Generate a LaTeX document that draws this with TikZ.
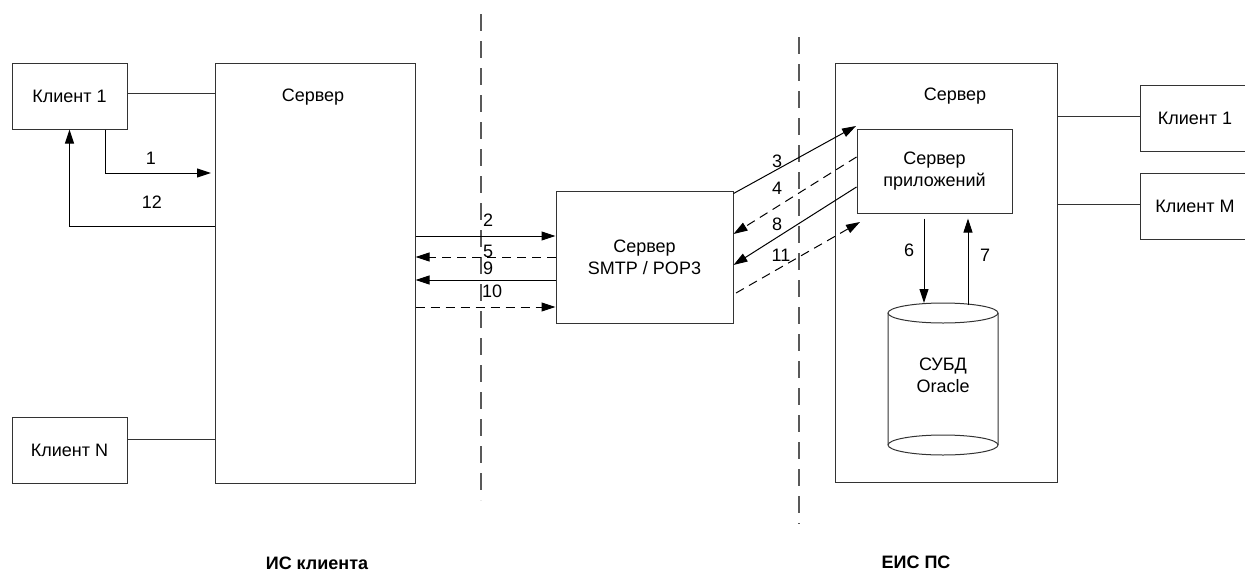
\documentclass[tikz,border=0pt]{standalone}
\usepackage{fontspec}
\setmainfont{Liberation Sans}
\usetikzlibrary{arrows.meta}
\begin{document}
\begin{tikzpicture}[x=1pt, y=-1pt,
  box/.style={rectangle, draw=black!80, line width=1pt, inner sep=0pt,
    align=center, font=\fontsize{18}{22}\selectfont},
  txt/.style={font=\fontsize{18}{22}\selectfont, inner sep=0pt, align=center},
  ttl/.style={font=\fontsize{18}{22}\selectfont\bfseries, inner sep=0pt},
  link/.style={draw=black!80, line width=1pt},
  flow/.style={draw=black, line width=1pt, -{Triangle[length=14pt, width=9pt]}},
  reply/.style={flow, dash pattern=on 9pt off 6pt},
  border/.style={draw=black!65, line width=1.2pt, dash pattern=on 17pt off 10pt},
]

\useasboundingbox (0,0) rectangle (1245,571);

% Zone borders
\coordinate (s1a) at (481,14);
\coordinate (s1b) at (481,500);
\coordinate (s2a) at (799,37);
\coordinate (s2b) at (799,524);
\draw[border] (s1a) -- (s1b);
\draw[border] (s2a) -- (s2b);

% Client side
\node[box, minimum width=115pt, minimum height=66pt] (cl1) at (69.5,96) {Клиент 1};
\node[box, minimum width=115pt, minimum height=66pt] (cln) at (69.5,450) {Клиент N};
\node[box, minimum width=200pt, minimum height=420pt] (srvL) at (315,273) {};
\node[txt] (srvLt) at (313,97) {Сервер};

\draw[link] ([yshift=3pt]cl1.east) -- ([yshift=3pt]cl1.east -| srvL.west);
\draw[link] ([yshift=11pt]cln.east) -- ([yshift=11pt]cln.east -| srvL.west);

% Arrows 1 and 12
\coordinate (in1) at (211,173);
\coordinate (out12) at (215,226);
\draw[flow] ([xshift=35.5pt]cl1.south) |- (in1);
\draw[flow] (out12) -| (cl1.south);
\node[txt] (n1) at (151,158) {1};
\node[txt] (n12) at (152,202) {12};

% Mail server
\node[box, minimum width=177pt, minimum height=132pt] (smtp) at (644.5,257) {Сервер\\SMTP / POP3};

\coordinate (y2) at (0,236);
\coordinate (y5) at (0,257);
\coordinate (y9) at (0,280);
\coordinate (y10) at (0,307);
\draw[flow] (srvL.east |- y2) -- (smtp.west |- y2);
\draw[reply] (smtp.west |- y5) -- (srvL.east |- y5);
\draw[flow] (smtp.west |- y9) -- (srvL.east |- y9);
\draw[reply] (srvL.east |- y10) -- (smtp.west |- y10);
\node[txt, anchor=west] (n2) at (483,220) {2};
\node[txt, anchor=west] (n5) at (483,251) {5};
\node[txt, anchor=west] (n9) at (483,268) {9};
\node[txt, anchor=west] (n10) at (482,291) {10};

% EIS side
\node[box, minimum width=222pt, minimum height=419pt] (srvR) at (946,272.5) {};
\node[txt] (srvRt) at (955,96) {Сервер};
\node[box, minimum width=155pt, minimum height=84pt] (app) at (934.5,171) {Сервер\\приложений};
\node[box, minimum width=110pt, minimum height=66pt] (cr1) at (1195,118) {Клиент 1};
\node[box, minimum width=110pt, minimum height=66pt] (crm) at (1195,206) {Клиент M};

\draw[link] ([yshift=2pt]cr1.west) -- ([yshift=2pt]cr1.west -| srvR.east);
\draw[link] ([yshift=2pt]crm.west) -- ([yshift=2pt]crm.west -| srvR.east);

% Arrows 3, 4, 8, 11
\coordinate (t3) at (856,126);
\coordinate (a4) at (0,157);
\coordinate (b4) at (0,234);
\coordinate (a8) at (0,187);
\coordinate (b8) at (0,265);
\coordinate (a11) at (736,293);
\coordinate (t11) at (860,222);
\draw[flow] ([yshift=-3pt]smtp.north east) -- (t3);
\draw[reply] (app.west |- a4) -- (smtp.east |- b4);
\draw[flow] (app.west |- a8) -- (smtp.east |- b8);
\draw[reply] (a11) -- (t11);
\node[txt] (n3) at (777,161) {3};
\node[txt] (n4) at (777,188) {4};
\node[txt] (n8) at (777,224) {8};
\node[txt] (n11) at (781,255) {11};

% Database
\coordinate (dbtop) at (943,313);
\coordinate (dbbot) at (943,445);
\draw[link] (dbtop) ellipse [x radius=55pt, y radius=10pt];
\draw[link] ([xshift=-55pt]dbtop) -- ([xshift=-55pt]dbbot)
  arc[start angle=180, end angle=360, x radius=55pt, y radius=10pt] -- ([xshift=55pt]dbtop);
\draw[link] ([xshift=-55pt]dbbot) arc[start angle=180, end angle=0, x radius=55pt, y radius=10pt];
\node[txt] (db) at (943,375) {СУБД\\Oracle};

% Arrows 6 and 7
\coordinate (dbin) at (924,303);
\coordinate (dbout) at (968,305);
\draw[flow] ([xshift=-10.5pt, yshift=-5pt]app.south) -- (dbin);
\draw[flow] (dbout) -- ([xshift=33.5pt, yshift=-5pt]app.south);
\node[txt] (n6) at (909,250) {6};
\node[txt] (n7) at (985,255) {7};

% Zone titles
\node[ttl] (zl) at (317,563) {ИС клиента};
\node[ttl] (zr) at (916,562) {ЕИС ПС};

\end{tikzpicture}
\end{document}
